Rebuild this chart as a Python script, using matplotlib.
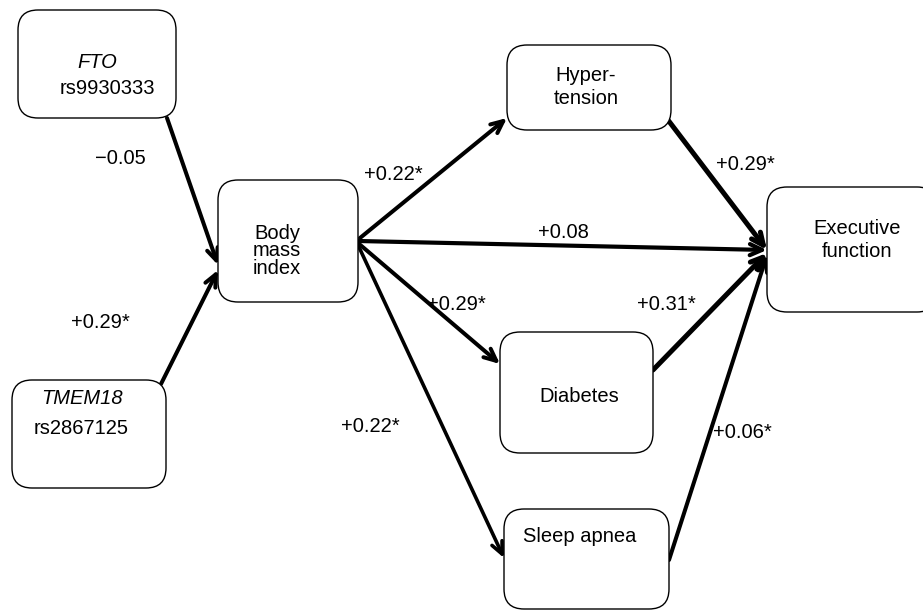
import matplotlib
matplotlib.use("Agg")
import matplotlib.pyplot as plt
from matplotlib.patches import FancyBboxPatch, FancyArrowPatch

plt.rcParams['font.family'] = ['Liberation Sans', 'DejaVu Sans']

# nodes of the path model
nodes = ["FTO", "TMEM18", "BMI", "HTN", "DM", "OSA", "EF"]
node_titles = ["FTO", "TMEM18", "", "", "", "", ""]
node_texts = ["rs9930333", "rs2867125", "Body\nmass\nindex", "Hyper-\ntension",
              "Diabetes", "Sleep apnea", "Executive\nfunction"]

# paths and standardized coefficients
path_from = ["FTO", "TMEM18", "BMI", "BMI", "BMI", "BMI", "HTN", "DM", "OSA"]
path_to = ["BMI", "BMI", "HTN", "EF", "DM", "OSA", "EF", "EF", "EF"]
coefs = ["\u22120.05", "+0.29*", "+0.22*", "+0.08", "+0.29*", "+0.22*",
         "+0.29*", "+0.31*", "+0.06*"]

# layout (pixels, y down)
boxes = {
    "FTO": (18, 10, 158, 108),
    "TMEM18": (12, 380, 154, 108),
    "BMI": (218, 180, 140, 122),
    "HTN": (507, 45, 164, 85),
    "DM": (500, 332, 153, 121),
    "OSA": (504, 509, 165, 100),
    "EF": (767, 187, 170, 125),
}
title_pos = {"FTO": (97, 62), "TMEM18": (82, 399)}
text_pos = {"FTO": (107, 88), "TMEM18": (81, 429), "BMI": (277, 251),
            "HTN": (586, 87), "DM": (579, 396), "OSA": (580, 537), "EF": (857, 240)}
spacing = {"BMI": 0.93, "HTN": 1.25, "EF": 1.25}
starts = [(167, 118), (161, 384), (360, 238), (358, 241), (358, 243), (358, 245),
          (668, 120), (653, 370), (669, 560)]
ends = [(218, 265), (218, 270), (507, 118), (767, 250), (500, 364), (504, 558),
        (767, 250), (767, 253), (767, 255)]
widths = [2.9, 2.9, 2.9, 3.0, 2.9, 2.6, 3.6, 3.6, 2.9]
label_pos = [(120, 158), (100, 322), (393, 175), (563, 233), (456, 304),
             (370, 427), (745, 165), (666, 305), (742, 432)]

fig = plt.figure(figsize=(9.23, 6.12), dpi=100)
ax = fig.add_axes([0, 0, 1, 1])
ax.set_xlim(0, 923)
ax.set_ylim(612, 0)
ax.axis('off')

fs = 14.5
for n, title, txt in zip(nodes, node_titles, node_texts):
    x, y, w, h = boxes[n]
    ax.add_patch(FancyBboxPatch((x, y), w, h, boxstyle="round,pad=0,rounding_size=20",
                                fc='white', ec='black', lw=1.0, zorder=3))
    if title:
        ax.text(*title_pos[n], title, style='italic', fontsize=fs,
                ha='center', va='center', zorder=4)
    ax.text(*text_pos[n], txt, fontsize=fs, ha='center', va='center',
            linespacing=spacing.get(n, 1.0), zorder=4)

for s, e, w in zip(starts, ends, widths):
    ax.add_patch(FancyArrowPatch(s, e, arrowstyle='->,head_length=3.5,head_width=1.6',
                                 lw=w, color='black', shrinkA=0, shrinkB=0,
                                 mutation_scale=2.5, zorder=2))

for lab, (lx, ly) in zip(coefs, label_pos):
    ax.text(lx, ly, lab, fontsize=fs, ha='center', va='center', zorder=4)

fig.savefig('out.png', dpi=100)
